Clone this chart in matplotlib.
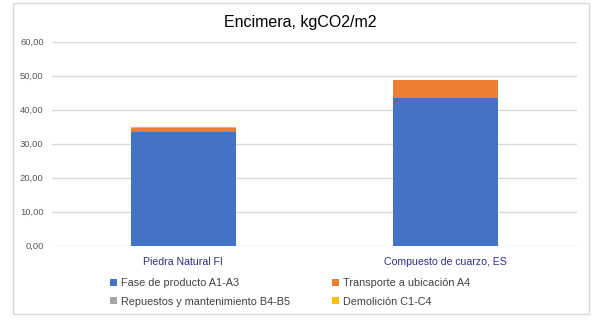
import matplotlib
matplotlib.use("Agg")
import matplotlib.pyplot as plt
from matplotlib.patches import Rectangle, Patch
from matplotlib.ticker import FuncFormatter

plt.rcParams['font.family'] = ['Liberation Sans', 'DejaVu Sans']

categories = ["Piedra Natural FI", "Compuesto de cuarzo, ES"]
series_names = ["Fase de producto A1-A3", "Transporte a ubicación A4",
                "Repuestos y mantenimiento B4-B5", "Demolición C1-C4"]
fase_producto = [33.3, 43.4]
transporte = [1.45, 5.2]
repuestos = [0.0, 0.0]
demolicion = [0.25, 0.0]
colors = ["#4472C4", "#ED7D31", "#A5A5A5", "#FFC000"]
title = "Encimera, kgCO2/m2"
yticks = [0, 10, 20, 30, 40, 50, 60]

fig = plt.figure(figsize=(6.0, 3.29), dpi=100)
W, H = 600, 329
# outer frame
fig.patches.append(Rectangle((13/W, 1 - 314/H), (589-13)/W, (314-3)/H,
                             transform=fig.transFigure, fill=False,
                             edgecolor="#D9D9D9", linewidth=1.0))

ax = fig.add_axes([52/W, 1 - 245.7/H, (577-52)/W, (245.7-41.7)/H])
x = list(range(len(categories)))
series = [fase_producto, transporte, repuestos, demolicion]
bottom = [0.0] * len(categories)
for vals, c in zip(series, colors):
    ax.bar(x, vals, width=0.4, bottom=bottom, color=c, zorder=3)
    bottom = [b + v for b, v in zip(bottom, vals)]

ax.set_xlim(-0.5, 1.5)
ax.set_ylim(0, 60)
ax.set_yticks(yticks)
ax.yaxis.set_major_formatter(FuncFormatter(lambda v, p: f"{v:.2f}".replace(".", ",")))
ax.grid(axis="y", color="#D9D9D9", linewidth=1.0, zorder=0)
for s in ax.spines.values():
    s.set_visible(False)
ax.tick_params(axis="y", length=0, labelsize=6.8, labelcolor="#595959", pad=6)
ax.set_xticks(x)
ax.set_xticklabels(categories)
ax.tick_params(axis="x", length=0, labelsize=7.6, labelcolor="#2F2F7F", pad=8)

fig.text(0.5, 1 - 22/H, title, ha="center", va="center", fontsize=11.5, color="#000000")

handles = [Patch(facecolor=c, edgecolor="none") for c in colors]
common = dict(loc="upper left", frameon=False, fontsize=7.8, handlelength=0.65,
              handleheight=0.65, handletextpad=0.4, labelspacing=0.8,
              borderpad=0, borderaxespad=0, labelcolor="#404040")
leg1 = fig.legend([handles[0], handles[2]], [series_names[0], series_names[2]],
                  bbox_to_anchor=(110/W, 1 - 278/H), **common)
leg2 = fig.legend([handles[1], handles[3]], [series_names[1], series_names[3]],
                  bbox_to_anchor=(332/W, 1 - 278/H), **common)

fig.savefig("out.png", dpi=100)
